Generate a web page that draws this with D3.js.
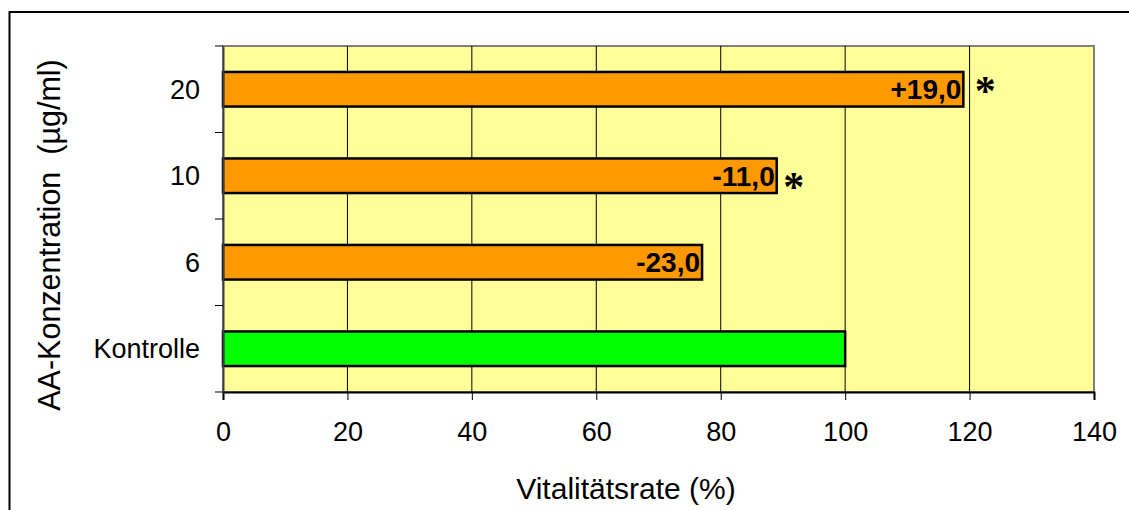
<!DOCTYPE html>
<html><head><meta charset="utf-8">
<script src="https://cdn.jsdelivr.net/npm/d3@7"></script>
<style>body{margin:0;background:#fff}svg{display:block}</style>
</head><body>
<script>
const categories = ["Kontrolle", "6", "10", "20"];
const values = [100, 77, 89, 119];
const changeLabels = ["", "-23,0", "-11,0", "+19,0"];
const significant = [false, false, true, true];
const barColors = ["#00FF00", "#FF9900", "#FF9900", "#FF9900"];
const xTicks = [0, 20, 40, 60, 80, 100, 120, 140];

const W = 1129, H = 510;
const svg = d3.select("body").append("svg").attr("width", W).attr("height", H);
svg.append("rect").attr("x", 9.5).attr("y", 12).attr("width", W + 10).attr("height", H + 10)
  .attr("fill", "#fff").attr("stroke", "#000").attr("stroke-width", 2);

const L = 223, R = 1094, T = 46, B = 392;
const x = d3.scaleLinear().domain([0, 140]).range([L, R]);
const y = d3.scaleBand().domain(categories.slice().reverse()).range([T, B]).paddingInner(0.6).paddingOuter(0.3);
const yb = d3.scaleBand().domain(categories.slice().reverse()).range([T, B]);

svg.append("rect").attr("x", L).attr("y", T).attr("width", R - L).attr("height", B - T)
  .attr("fill", "#FFFF99").attr("stroke", "#808080").attr("stroke-width", 2);

// grid
svg.append("g").selectAll("line").data(xTicks.filter(d => d > 0 && d < 140)).join("line")
  .attr("x1", d => x(d)).attr("x2", d => x(d)).attr("y1", T).attr("y2", B)
  .attr("stroke", "#000").attr("stroke-width", 1);

// bars
svg.append("g").selectAll("rect").data(categories).join("rect")
  .attr("x", x(0)).attr("y", d => y(d)).attr("height", y.bandwidth())
  .attr("width", (d, i) => x(values[i]) - x(0))
  .attr("fill", (d, i) => barColors[i]).attr("stroke", "#000").attr("stroke-width", 2.5);

// bar labels
svg.append("g").selectAll("text").data(categories).join("text")
  .attr("x", (d, i) => x(values[i]) - 2).attr("y", d => y(d) + y.bandwidth() / 2 + 10)
  .attr("text-anchor", "end").attr("font-family", "Arial, Liberation Sans, sans-serif")
  .attr("font-weight", "bold").attr("font-size", 28).attr("fill", "#000")
  .text((d, i) => changeLabels[i]);

// asterisks
const astDy = [0, 0, 7, -2];
const astDx = [0, 0, 17, 22];
svg.append("g").selectAll("text").data(categories.filter((d, i) => significant[i])).join("text")
  .attr("x", d => x(values[categories.indexOf(d)]) + astDx[categories.indexOf(d)])
  .attr("y", d => y(d) + y.bandwidth() / 2 + 18 + astDy[categories.indexOf(d)])
  .attr("text-anchor", "middle")
  .attr("font-family", "Liberation Serif, Times New Roman, serif").attr("font-weight", "bold")
  .attr("font-size", 42).text("*");

// x axis
const xAxis = svg.append("g").attr("transform", `translate(0,${B})`)
  .call(d3.axisBottom(x).tickValues(xTicks).tickSize(8).tickPadding(22).tickFormat(d3.format("d")));
xAxis.select(".domain").attr("stroke", "#000").attr("stroke-width", 2);
xAxis.selectAll(".tick line").attr("stroke", "#000");
xAxis.selectAll("text").attr("font-family", "Arial, Liberation Sans, sans-serif").attr("font-size", 27).attr("fill", "#000");

// y axis
const yAxis = svg.append("g").attr("transform", `translate(${L},0)`)
  .call(d3.axisLeft(yb).tickSize(0).tickPadding(23));
yAxis.select(".domain").attr("stroke", "#404040").attr("stroke-width", 2);
yAxis.selectAll("text").attr("font-family", "Arial, Liberation Sans, sans-serif").attr("font-size", 27).attr("fill", "#000").attr("dy", "0.35em");
svg.append("g").selectAll("line").data(d3.range(categories.length + 1)).join("line")
  .attr("x1", L - 8).attr("x2", L).attr("y1", i => T + i * yb.step()).attr("y2", i => T + i * yb.step())
  .attr("stroke", "#000").attr("stroke-width", 1);

// titles
svg.append("text").attr("x", 626).attr("y", 499).attr("text-anchor", "middle")
  .attr("font-family", "Arial, Liberation Sans, sans-serif").attr("font-size", 30).text("Vitalitätsrate (%)");
svg.append("text").attr("transform", `translate(60,235) rotate(-90)`).attr("text-anchor", "middle")
  .attr("font-family", "Arial, Liberation Sans, sans-serif").attr("font-size", 30.5)
  .attr("xml:space", "preserve").style("white-space", "pre").text("AA-Konzentration  (µg/ml)");
</script>
</body></html>
